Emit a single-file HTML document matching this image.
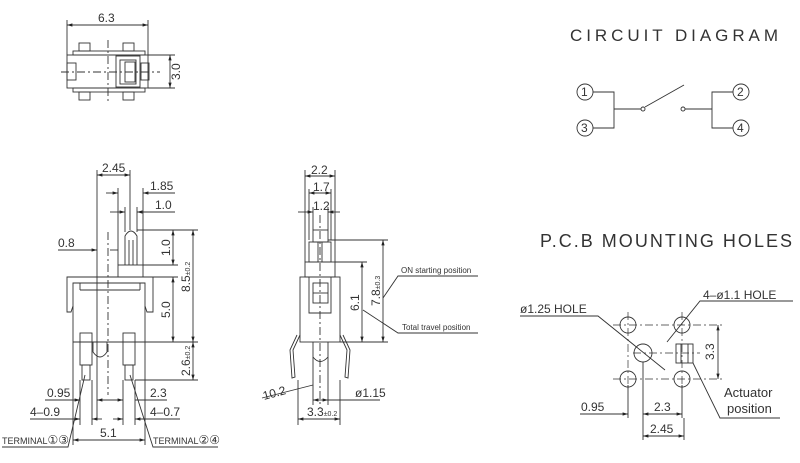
<!DOCTYPE html>
<html><head><meta charset="utf-8"><style>
body{margin:0;background:#fff}
svg{display:block}
text{font-family:"Liberation Sans","DejaVu Sans",sans-serif;fill:#333}
</style></head><body>
<svg width="800" height="463" viewBox="0 0 800 463" xmlns="http://www.w3.org/2000/svg">
<defs>
<marker id="a" viewBox="0 0 10 10" refX="10" refY="5" markerWidth="6" markerHeight="6" orient="auto-start-reverse"><path d="M0,2 L10,5 L0,8z" fill="#222"/></marker>
</defs>
<g stroke="#333" stroke-width="0.9" fill="none">
<!-- TOP VIEW -->
<line x1="67" y1="25" x2="148" y2="25" marker-start="url(#a)" marker-end="url(#a)"/>
<line x1="67" y1="20" x2="67" y2="55"/><line x1="148" y1="20" x2="148" y2="55"/>
<rect x="67" y="55" width="81" height="33"/>
<rect x="73" y="51" width="72" height="4"/><rect x="73" y="88" width="72" height="4"/>
<rect x="79" y="43" width="11" height="8"/><rect x="123" y="43" width="11" height="8"/>
<rect x="79" y="92" width="11" height="8"/><rect x="123" y="92" width="11" height="8"/>
<rect x="67" y="63" width="9" height="17"/><rect x="141" y="63" width="8" height="17"/>
<rect x="116" y="56" width="24" height="31"/><rect x="120" y="60" width="16" height="24"/>
<rect x="125" y="62" width="10" height="20"/>
<line x1="148" y1="55" x2="175" y2="55"/><line x1="148" y1="88" x2="175" y2="88"/>
<line x1="170" y1="55" x2="170" y2="88" marker-start="url(#a)" marker-end="url(#a)"/>
<line x1="61" y1="72" x2="160" y2="72" stroke-dasharray="8 3 2 3"/>
<line x1="108" y1="40" x2="108" y2="103" stroke-dasharray="8 3 2 3"/>

<!-- CIRCUIT -->
<circle cx="585" cy="92" r="8"/><circle cx="585" cy="128" r="8"/>
<circle cx="741" cy="92" r="8"/><circle cx="741" cy="128" r="8"/>
<path d="M593,92 H614 V128 H593 M614,109 H641"/>
<circle cx="643" cy="109" r="2"/><circle cx="683" cy="109" r="2"/>
<line x1="645" y1="107" x2="684" y2="85"/>
<path d="M685,109 H712 M733,92 H712 V128 H733"/>

<!-- PCB -->
<circle cx="628" cy="325" r="8"/><circle cx="682" cy="325" r="8"/>
<circle cx="628" cy="379" r="8"/><circle cx="682" cy="379" r="8"/>
<circle cx="643" cy="353" r="9"/>
<rect x="676" y="344" width="17" height="19"/><line x1="681" y1="344" x2="681" y2="363"/><line x1="688" y1="344" x2="688" y2="363"/>
<g stroke-dasharray="8 3 2 3" stroke-width="0.7">
<line x1="613" y1="325" x2="722" y2="325"/><line x1="613" y1="379" x2="722" y2="379"/>
<line x1="633" y1="353" x2="700" y2="353"/>
<line x1="628" y1="312" x2="628" y2="392"/><line x1="682" y1="312" x2="682" y2="392"/>
</g>
<line x1="718" y1="325" x2="718" y2="379" marker-start="url(#a)" marker-end="url(#a)"/>
<line x1="628" y1="385" x2="628" y2="418"/><line x1="643" y1="362" x2="643" y2="440"/><line x1="682" y1="385" x2="682" y2="418"/><line x1="684" y1="418" x2="684" y2="440"/>
<line x1="580" y1="414" x2="628" y2="414" marker-end="url(#a)"/>
<line x1="643" y1="414" x2="682" y2="414" marker-start="url(#a)" marker-end="url(#a)"/>
<line x1="643" y1="436" x2="684" y2="436" marker-start="url(#a)" marker-end="url(#a)"/>
<path d="M520,316 H598 L665,370"/>
<path d="M793,301 H700 L667,342"/>
<path d="M780,418 H720 L693,363"/>

<!-- FRONT VIEW -->
<line x1="97" y1="170" x2="97" y2="420"/><line x1="130" y1="170" x2="130" y2="230"/>
<line x1="97" y1="175" x2="130" y2="175" marker-start="url(#a)" marker-end="url(#a)"/>
<line x1="118" y1="188" x2="118" y2="265"/><line x1="143" y1="188" x2="143" y2="265"/>
<line x1="106" y1="193" x2="118" y2="193" marker-end="url(#a)"/><line x1="175" y1="193" x2="143" y2="193" marker-end="url(#a)"/>
<line x1="125" y1="207" x2="125" y2="232"/><line x1="137" y1="207" x2="137" y2="232"/>
<line x1="110" y1="212" x2="125" y2="212" marker-end="url(#a)"/><line x1="175" y1="212" x2="137" y2="212" marker-end="url(#a)"/>
<path d="M125,265 V236 Q131,226 137,236 V265"/><line x1="129" y1="240" x2="129" y2="265"/><line x1="133" y1="240" x2="133" y2="265"/>
<rect x="118" y="265" width="25" height="12"/>
<path d="M67,277 H153 V312 H147 L145,306 V283 H73 V306 L71,312 H67 Z"/>
<line x1="80" y1="283" x2="80" y2="290"/><line x1="140" y1="283" x2="140" y2="290"/><line x1="80" y1="290" x2="140" y2="290"/>
<line x1="73" y1="306" x2="73" y2="342"/><line x1="145" y1="306" x2="145" y2="342"/>
<line x1="73" y1="342" x2="145" y2="342"/>
<path d="M93,342 V352 Q100,362 107,352 V342"/>
<rect x="80" y="333" width="12" height="32"/><rect x="82" y="365" width="8" height="15"/>
<rect x="123" y="333" width="12" height="32"/><rect x="125" y="365" width="8" height="15"/>
<line x1="73" y1="342" x2="73" y2="445"/><line x1="145" y1="342" x2="145" y2="445"/>
<line x1="80" y1="380" x2="80" y2="425"/><line x1="92" y1="380" x2="92" y2="425"/>
<line x1="123" y1="380" x2="123" y2="425"/><line x1="135" y1="380" x2="135" y2="425"/>
<line x1="108" y1="232" x2="108" y2="395" stroke-dasharray="8 3 2 3"/>
<line x1="58" y1="250" x2="97" y2="250" marker-end="url(#a)"/><line x1="118" y1="250" x2="110" y2="250"/>
<line x1="137" y1="230" x2="198" y2="230"/><line x1="143" y1="265" x2="178" y2="265"/>
<line x1="153" y1="277" x2="178" y2="277"/><line x1="145" y1="342" x2="198" y2="342"/><line x1="135" y1="380" x2="198" y2="380"/>
<line x1="173" y1="230" x2="173" y2="265" marker-start="url(#a)" marker-end="url(#a)"/>
<line x1="173" y1="277" x2="173" y2="342" marker-start="url(#a)" marker-end="url(#a)"/>
<line x1="193" y1="230" x2="193" y2="342" marker-start="url(#a)" marker-end="url(#a)"/>
<line x1="193" y1="342" x2="193" y2="380" marker-start="url(#a)" marker-end="url(#a)"/>
<line x1="45" y1="400" x2="80" y2="400" marker-end="url(#a)"/><line x1="97" y1="400" x2="123" y2="400" marker-start="url(#a)" marker-end="url(#a)"/><line x1="167" y1="400" x2="135" y2="400"/>
<line x1="30" y1="419" x2="80" y2="419" marker-end="url(#a)"/><line x1="92" y1="419" x2="102" y2="419" marker-start="url(#a)"/>
<line x1="113" y1="419" x2="123" y2="419" marker-end="url(#a)"/><line x1="180" y1="419" x2="135" y2="419" marker-end="url(#a)"/>
<line x1="73" y1="440" x2="145" y2="440" marker-start="url(#a)" marker-end="url(#a)"/>
<path d="M2,447 H68 L85,375"/><path d="M218,447 H153 L130,375"/>

<!-- SIDE VIEW -->
<line x1="305" y1="170" x2="305" y2="262"/><line x1="335" y1="170" x2="335" y2="262"/>
<line x1="305" y1="176" x2="335" y2="176" marker-start="url(#a)" marker-end="url(#a)"/>
<line x1="309" y1="189" x2="309" y2="240"/><line x1="331" y1="189" x2="331" y2="240"/>
<line x1="309" y1="193" x2="331" y2="193" marker-start="url(#a)" marker-end="url(#a)"/>
<line x1="313" y1="207" x2="313" y2="230"/><line x1="328" y1="207" x2="328" y2="230"/>
<line x1="298" y1="212" x2="313" y2="212" marker-end="url(#a)"/><line x1="340" y1="212" x2="328" y2="212" marker-end="url(#a)"/>
<rect x="313" y="230" width="15" height="12"/>
<rect x="309" y="242" width="22" height="20"/>
<line x1="318" y1="242" x2="318" y2="262"/><line x1="322" y1="242" x2="322" y2="262"/>
<rect x="305" y="262" width="30" height="15"/>
<rect x="300" y="277" width="40" height="65"/>
<path d="M309,277 V313 H331 V277"/>
<rect x="313" y="283" width="15" height="20"/><line x1="313" y1="293" x2="328" y2="293"/>
<path d="M313,342 V357 Q320,366 328,357 V342"/>
<path d="M300,335 L293,350 L295,377 L292,378 L290,350 L297,335"/>
<path d="M340,335 L347,350 L345,377 L348,378 L350,350 L343,335"/>
<line x1="313" y1="357" x2="313" y2="405"/><line x1="328" y1="357" x2="328" y2="405"/>
<line x1="298" y1="380" x2="298" y2="425"/><line x1="340" y1="380" x2="340" y2="425"/>
<line x1="320" y1="215" x2="320" y2="408" stroke-dasharray="8 3 2 3"/>
<line x1="335" y1="262" x2="367" y2="262"/><line x1="328" y1="240" x2="388" y2="240"/><line x1="340" y1="342" x2="388" y2="342"/>
<line x1="362" y1="262" x2="362" y2="342" marker-start="url(#a)" marker-end="url(#a)"/>
<line x1="383" y1="240" x2="383" y2="342" marker-start="url(#a)" marker-end="url(#a)"/>
<path d="M478,276 H398 L383,298"/><path d="M478,333 H398 L363,310"/>
<line x1="262" y1="398" x2="313" y2="385"/>
<line x1="313" y1="400" x2="328" y2="400" marker-start="url(#a)" marker-end="url(#a)"/><line x1="328" y1="400" x2="380" y2="400"/>
<line x1="298" y1="419" x2="340" y2="419" marker-start="url(#a)" marker-end="url(#a)"/>
</g>

<g font-size="12">
<text x="98" y="22">6.3</text>
<text x="180" y="80" transform="rotate(-90 180 80)">3.0</text>
<text x="570" y="41" font-size="17" textLength="208" lengthAdjust="spacing" fill="#555">CIRCUIT DIAGRAM</text>
<text x="540" y="247" font-size="18" textLength="252" lengthAdjust="spacing" fill="#555">P.C.B MOUNTING HOLES</text>
<g font-size="12"><text x="581" y="96">1</text><text x="581" y="132">3</text><text x="737" y="96">2</text><text x="737" y="132">4</text></g>
<text x="520" y="313">ø1.25 HOLE</text>
<text x="703" y="299">4–ø1.1 HOLE</text>
<text x="724" y="397" font-size="13">Actuator</text>
<text x="727" y="413" font-size="13">position</text>
<text x="714" y="360" transform="rotate(-90 714 360)">3.3</text>
<text x="581" y="411">0.95</text>
<text x="654" y="411">2.3</text>
<text x="650" y="433">2.45</text>
<text x="102" y="172">2.45</text>
<text x="150" y="190">1.85</text>
<text x="155" y="209">1.0</text>
<text x="58" y="247">0.8</text>
<text x="170" y="256" transform="rotate(-90 170 256)">1.0</text>
<text x="170" y="318" transform="rotate(-90 170 318)">5.0</text>
<text x="190" y="292" transform="rotate(-90 190 292)">8.5<tspan font-size="7">±0.2</tspan></text>
<text x="190" y="376" transform="rotate(-90 190 376)">2.6<tspan font-size="7">±0.2</tspan></text>
<text x="47" y="397">0.95</text>
<text x="150" y="397">2.3</text>
<text x="30" y="416">4–0.9</text>
<text x="150" y="416">4–0.7</text>
<text x="100" y="437">5.1</text>
<text x="2" y="444" font-size="9">TERMINAL<tspan font-size="12">①③</tspan></text>
<text x="153" y="444" font-size="9">TERMINAL<tspan font-size="12">②④</tspan></text>
<text x="311" y="174">2.2</text>
<text x="313" y="191">1.7</text>
<text x="313" y="210">1.2</text>
<text x="359" y="311" transform="rotate(-90 359 311)">6.1</text>
<text x="380" y="306" transform="rotate(-90 380 306)">7.8<tspan font-size="7">±0.3</tspan></text>
<text x="401" y="273" font-size="8">ON starting position</text>
<text x="402" y="330" font-size="8">Total travel position</text>
<text x="264" y="400" transform="rotate(-15 264 400)">10.2</text>
<text x="355" y="397">ø1.15</text>
<text x="307" y="416">3.3<tspan font-size="7">±0.2</tspan></text>
</g>
</svg>
</body></html>
